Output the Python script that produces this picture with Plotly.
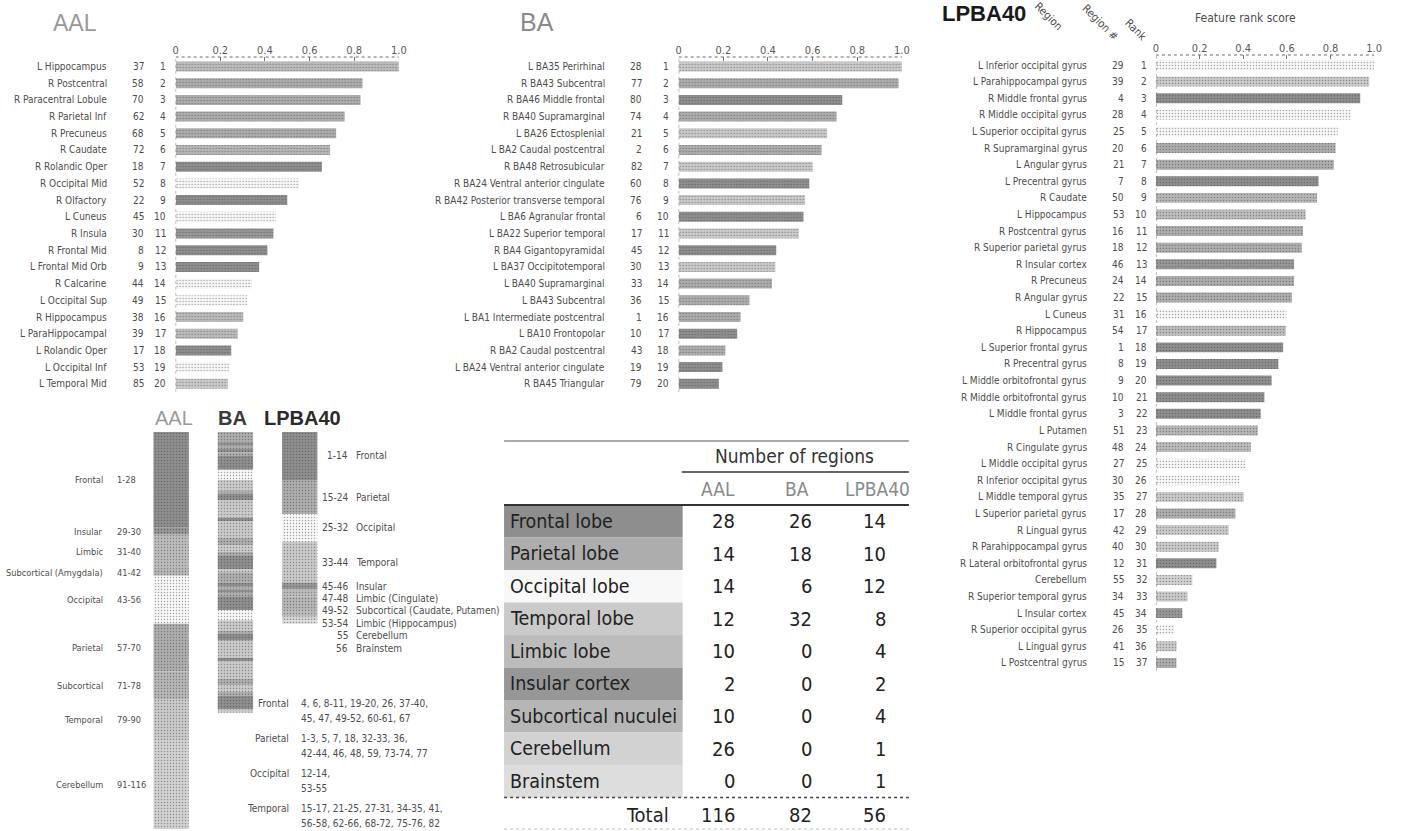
import plotly.graph_objects as go

W, H = 1406, 831

# ---------------- data ----------------
# AAL atlas: top-20 regions by feature rank score
aal_names = ["L Hippocampus", "R Postcentral", "R Paracentral Lobule", "R Parietal Inf", "R Precuneus",
             "R Caudate", "R Rolandic Oper", "R Occipital Mid", "R Olfactory", "L Cuneus",
             "R Insula", "R Frontal Mid", "L Frontal Mid Orb", "R Calcarine", "L Occipital Sup",
             "R Hippocampus", "L ParaHippocampal", "L Rolandic Oper", "L Occipital Inf", "L Temporal Mid"]
aal_region = [37, 58, 70, 62, 68, 72, 18, 52, 22, 45, 30, 8, 9, 44, 49, 38, 39, 17, 53, 85]
aal_score = [1.0, 0.837, 0.828, 0.757, 0.719, 0.692, 0.655, 0.552, 0.500, 0.450,
             0.438, 0.411, 0.374, 0.340, 0.322, 0.303, 0.278, 0.249, 0.241, 0.234]

# Brodmann areas: top-20 regions
ba_names = ["L BA35 Perirhinal", "R BA43 Subcentral", "R BA46 Middle frontal", "R BA40 Supramarginal",
            "L BA26 Ectosplenial", "L BA2 Caudal postcentral", "R BA48 Retrosubicular",
            "R BA24 Ventral anterior cingulate", "R BA42 Posterior transverse temporal",
            "L BA6 Agranular frontal", "L BA22 Superior temporal", "R BA4 Gigantopyramidal",
            "L BA37 Occipitotemporal", "L BA40 Supramarginal", "L BA43 Subcentral",
            "L BA1 Intermediate postcentral", "L BA10 Frontopolar", "R BA2 Caudal postcentral",
            "L BA24 Ventral anterior cingulate", "R BA45 Triangular"]
ba_region = [28, 77, 80, 74, 21, 2, 82, 60, 76, 6, 17, 45, 30, 33, 36, 1, 10, 43, 19, 79]
ba_score = [1.0, 0.985, 0.733, 0.707, 0.665, 0.640, 0.600, 0.585, 0.566, 0.559,
            0.538, 0.437, 0.433, 0.418, 0.317, 0.277, 0.262, 0.209, 0.196, 0.180]

# LPBA40 atlas: top-37 regions
lpba_names = ["L Inferior occipital gyrus", "L Parahippocampal gyrus", "R Middle frontal gyrus",
              "R Middle occipital gyrus", "L Superior occipital gyrus", "R Supramarginal gyrus",
              "L Angular gyrus", "L Precentral gyrus", "R Caudate", "L Hippocampus",
              "R Postcentral gyrus", "R Superior parietal gyrus", "R Insular cortex", "R Precuneus",
              "R Angular gyrus", "L Cuneus", "R Hippocampus", "L Superior frontal gyrus",
              "R Precentral gyrus", "L Middle orbitofrontal gyrus", "R Middle orbitofrontal gyrus",
              "L Middle frontal gyrus", "L Putamen", "R Cingulate gyrus", "L Middle occipital gyrus",
              "R Inferior occipital gyrus", "L Middle temporal gyrus", "L Superior parietal gyrus",
              "R Lingual gyrus", "R Parahippocampal gyrus", "R Lateral orbitofrontal gyrus",
              "Cerebellum", "R Superior temporal gyrus", "L Insular cortex",
              "R Superior occipital gyrus", "L Lingual gyrus", "L Postcentral gyrus"]
lpba_region = [29, 39, 4, 28, 25, 20, 21, 7, 50, 53, 16, 18, 46, 24, 22, 31, 54, 1, 8, 9, 10, 3,
               51, 48, 27, 30, 35, 17, 42, 40, 12, 55, 34, 45, 26, 41, 15]
lpba_score = [1.0, 0.977, 0.936, 0.894, 0.833, 0.823, 0.815, 0.745, 0.738, 0.686,
              0.674, 0.668, 0.633, 0.633, 0.623, 0.598, 0.595, 0.583, 0.561, 0.530,
              0.497, 0.480, 0.467, 0.435, 0.409, 0.386, 0.402, 0.364, 0.333, 0.288,
              0.277, 0.167, 0.144, 0.121, 0.083, 0.095, 0.094]

# Region-number ranges of each atlas: (first, last, label, lobe)
aal_groups = [(1, 28, "Frontal", "frontal"), (29, 30, "Insular", "insular"),
              (31, 40, "Limbic", "limbic"), (41, 42, "Subcortical (Amygdala)", "subcortical"),
              (43, 56, "Occipital", "occipital"), (57, 70, "Parietal", "parietal"),
              (71, 78, "Subcortical", "subcortical"), (79, 90, "Temporal", "temporal"),
              (91, 116, "Cerebellum", "cerebellum")]
lpba_groups = [(1, 14, "Frontal", "frontal"), (15, 24, "Parietal", "parietal"),
               (25, 32, "Occipital", "occipital"), (33, 44, "Temporal", "temporal"),
               (45, 46, "Insular", "insular"), (47, 48, "Limbic (Cingulate)", "limbic"),
               (49, 52, "Subcortical (Caudate, Putamen)", "subcortical"),
               (53, 54, "Limbic (Hippocampus)", "limbic"), (55, 55, "Cerebellum", "cerebellum"),
               (56, 56, "Brainstem", "brainstem")]
ba_lobe_ranges = {
    "frontal": [(4, 4), (6, 6), (8, 11), (19, 20), (26, 26), (37, 40), (45, 45), (47, 47),
                (49, 52), (60, 61), (67, 67), (78, 81)],
    "parietal": [(1, 3), (5, 5), (7, 7), (18, 18), (32, 33), (36, 36), (42, 44), (46, 46),
                 (48, 48), (59, 59), (73, 74), (77, 77)],
    "occipital": [(12, 14), (53, 55)],
    "temporal": [(15, 17), (21, 25), (27, 31), (34, 35), (41, 41), (56, 58), (62, 66),
                 (68, 72), (75, 76), (82, 82)],
}
ba_n_regions = 82
ba_legend = [("Frontal", ["4, 6, 8-11, 19-20, 26, 37-40,", "45, 47, 49-52, 60-61, 67"]),
             ("Parietal", ["1-3, 5, 7, 18, 32-33, 36,", "42-44, 46, 48, 59, 73-74, 77"]),
             ("Occipital", ["12-14,", "53-55"]),
             ("Temporal", ["15-17, 21-25, 27-31, 34-35, 41,", "56-58, 62-66, 68-72, 75-76, 82"])]

# Number of regions per lobe
table_lobes = ["Frontal lobe", "Parietal lobe", "Occipital lobe", "Temporal lobe", "Limbic lobe",
               "Insular cortex", "Subcortical nuculei", "Cerebellum", "Brainstem"]
table_keys = ["frontal", "parietal", "occipital", "temporal", "limbic", "insular",
              "subcortical", "cerebellum", "brainstem"]
aal_counts = [28, 14, 14, 12, 10, 2, 10, 26, 0]
ba_counts = [26, 18, 6, 32, 0, 0, 0, 0, 0]
lpba_counts = [14, 10, 12, 8, 4, 2, 4, 1, 1]
atlas_names = ["AAL", "BA", "LPBA40"]

# ---------------- styling ----------------
LOBE_FILL = {"frontal": "#8e8e8e", "parietal": "#adadad", "occipital": "#f8f8f8",
             "temporal": "#cacaca", "limbic": "#bcbcbc", "insular": "#979797",
             "subcortical": "#b6b6b6", "cerebellum": "#d2d2d2", "brainstem": "#dddddd"}
NARROW = "'Liberation Sans Narrow', 'DejaVu Sans Condensed', 'Roboto Condensed', Roboto, sans-serif"
SANS = "'Liberation Sans', Arial, sans-serif"
LBL = dict(family=NARROW, size=10, color="#4d4d4d")
LBL_SMALL = dict(family=NARROW, size=9.2, color="#4d4d4d")


def px(x):
    return x / W


def py(y):
    return 1 - y / H


def axname(k):
    s = "" if k == 1 else str(k)
    return f"x{s}", f"y{s}", f"xaxis{s}", f"yaxis{s}"


def lobe_of(region, groups):
    for a, b, _, lobe in groups:
        if a <= region <= b:
            return lobe
    return "temporal"


def ba_lobe(region):
    for lobe, ranges in ba_lobe_ranges.items():
        for a, b in ranges:
            if a <= region <= b:
                return lobe
    return "temporal"


def pattern_for(lobes):
    return dict(shape=".", fillmode="overlay", size=3, solidity=0.18,
                fgcolor=["#9a9a9a" if l == "occipital" else "#ffffff" for l in lobes])


def note(x, y, text, font, xanchor="center", yanchor="middle", **kw):
    d = dict(xref="paper", yref="paper", x=px(x), y=py(y), text=text, xanchor=xanchor,
             yanchor=yanchor, showarrow=False, font=font)
    d.update(kw)
    return d


fig = go.Figure()
annotations = []
shapes = []

# ---------------- ranked bar panels ----------------
panels = [
    # names, regions, scores, lobes, x0px, x1px, axis_px, row1_px, pitch, name/reg/rank offsets
    (aal_names, aal_region, aal_score, [lobe_of(r, aal_groups) for r in aal_region],
     174, 399, 57, 66.5, 16.7, (67, 30, 8)),
    (ba_names, ba_region, ba_score, [ba_lobe(r) for r in ba_region],
     681, 906, 57, 66.5, 16.7, (72, 35, 8)),
    (lpba_names, lpba_region, lpba_score, [lobe_of(r, lpba_groups) for r in lpba_region],
     1162, 1382, 55, 65.0, 16.61, (67, 30, 7)),
]

layout_axes = {}
for k, (names, regs, scores, lobes, x0, x1, ax_y, row1, pitch, offs) in enumerate(panels, start=1):
    n = len(names)
    ranks = list(range(1, n + 1))
    bottom_px = row1 + (n - 1) * pitch + 8
    top_rank = 1 - (row1 - ax_y) / pitch
    bot_rank = 1 + (bottom_px - row1) / pitch
    xa, ya, xkey, ykey = axname(k)
    fig.add_trace(go.Bar(
        x=scores, y=ranks, orientation="h", width=0.6, xaxis=xa, yaxis=ya,
        marker=dict(color=[LOBE_FILL[l] for l in lobes], line=dict(width=0),
                    pattern=pattern_for(lobes)),
        hoverinfo="skip", showlegend=False))
    layout_axes[xkey] = dict(
        domain=[px(x0), px(x1)], range=[0, 1], side="top", anchor=ya,
        tickvals=[0, 0.2, 0.4, 0.6, 0.8, 1.0], ticktext=["0", "0.2", "0.4", "0.6", "0.8", "1.0"],
        ticks="inside", ticklen=4, tickcolor="#777", tickwidth=1,
        tickfont=dict(family=NARROW, size=11, color="#5a5a5a"),
        showgrid=False, zeroline=False, showline=False, fixedrange=True)
    layout_axes[ykey] = dict(
        domain=[py(bottom_px), py(ax_y)], range=[bot_rank, top_rank], anchor=xa,
        visible=False, fixedrange=True)
    # dotted axis lines
    shapes.append(dict(type="line", xref=xa, yref=f"{ya} domain", x0=0, x1=1, y0=1, y1=1,
                       line=dict(color="#6a6a6a", width=1, dash="dot")))
    shapes.append(dict(type="line", xref=xa, yref=f"{ya} domain", x0=0, x1=0, y0=0, y1=1,
                       line=dict(color="#6a6a6a", width=1, dash="dot")))
    for name, reg, rank in zip(names, regs, ranks):
        for txt, dx in ((name, offs[0]), (str(reg), offs[1]), (str(rank), offs[2])):
            annotations.append(dict(xref=xa, yref=ya, x=0, y=rank, xanchor="right", yanchor="middle",
                                    xshift=-dx, text=txt, showarrow=False, font=LBL))

# panel titles
annotations += [
    note(48, 23, "AAL", dict(family=SANS, size=23, color="#9a9a9a"), xanchor="left"),
    note(519, 22, "BA", dict(family=SANS, size=25, color="#8a8a8a"), xanchor="left"),
    note(944, 14, "<b>LPBA40</b>", dict(family=SANS, size=22, color="#1a1a1a"), xanchor="left"),
    note(1252, 18, "Feature rank score", dict(family=NARROW, size=12, color="#4d4d4d")),
]
for txt, cx, cy in (("Region", 1054, 16), ("Region #", 1106, 22), ("Rank", 1141, 30)):
    annotations.append(note(cx, cy, txt, dict(family=NARROW, size=11, color="#4d4d4d"), textangle=45))

# ---------------- atlas region strips ----------------
STRIP_TOP, STRIP_BOT = 432, 829
n_max = 116
unit = (STRIP_BOT - STRIP_TOP) / n_max
layout_axes["xaxis4"] = dict(domain=[px(137.1), px(331.4)], range=[-0.5, 2.5], anchor="y4",
                             visible=False, fixedrange=True)
layout_axes["yaxis4"] = dict(domain=[py(STRIP_BOT), py(STRIP_TOP)], range=[n_max, 0], anchor="x4",
                             visible=False, fixedrange=True)

aal_lobes = [lobe_of(r, aal_groups) for r in range(1, 117)]
ba_lobes = [ba_lobe(r) for r in range(1, ba_n_regions + 1)]
lpba_lobes = [lobe_of(r, lpba_groups) for r in range(1, 57)]

for idx, lobes in enumerate((aal_lobes, ba_lobes, lpba_lobes)):
    runs = []
    start = 0
    for i in range(1, len(lobes) + 1):
        if i == len(lobes) or lobes[i] != lobes[start]:
            runs.append((start, i - start, lobes[start]))
            start = i
    fig.add_trace(go.Bar(
        x=[idx] * len(runs), y=[r[1] for r in runs], base=[r[0] for r in runs], width=0.55,
        xaxis="x4", yaxis="y4",
        marker=dict(color=[LOBE_FILL[r[2]] for r in runs], line=dict(width=0),
                    pattern=pattern_for([r[2] for r in runs])),
        hoverinfo="skip", showlegend=False))

for txt, cx, col in (("AAL", 172, "#9a9a9a"), ("<b>BA</b>", 231, "#3a3a3a"), ("<b>LPBA40</b>", 302, "#2a2a2a")):
    annotations.append(note(cx, 418, txt, dict(family=SANS, size=20, color=col)))

# AAL range labels
for a, b, label, _ in aal_groups:
    yc = (a - 1 + b) / 2
    annotations.append(dict(xref="paper", yref="y4", x=px(103), y=yc, text=label, xanchor="right",
                            yanchor="middle", showarrow=False, font=LBL_SMALL))
    annotations.append(dict(xref="paper", yref="y4", x=px(113), y=yc, text=f"{a}-{b}", xanchor="left",
                            yanchor="middle", showarrow=False, font=LBL_SMALL))

# LPBA40 range labels, spread so that neighbours do not collide
prev = -1e9
gap = 12.4 / unit
for a, b, label, _ in lpba_groups:
    yc = max((a - 1 + b) / 2, prev + gap)
    prev = yc
    rng = f"{a}-{b}" if a != b else f"{a}"
    annotations.append(dict(xref="paper", yref="y4", x=px(350), y=yc, text=rng, xanchor="right",
                            yanchor="middle", showarrow=False, font=LBL))
    annotations.append(dict(xref="paper", yref="y4", x=px(354), y=yc, text=label, xanchor="left",
                            yanchor="middle", showarrow=False, font=LBL))

# BA region list
y = 703
for label, lines in ba_legend:
    annotations.append(note(290, y, label, LBL, xanchor="right"))
    for j, line in enumerate(lines):
        annotations.append(note(298, y + 15.5 * j, line, LBL, xanchor="left"))
    y += 35

# ---------------- region count table ----------------
T_X0, T_X1, LAB_X1 = 505, 913, 685
ROW_TOP, ROW_H = 505, 32.5
col_right = [740, 817, 892]
TFONT = dict(family=NARROW, size=20, color="#222222")
LFONT = dict(family=NARROW, size=19.5, color="#222222")


def hline(yy, xa, xb, w, color, dash="solid"):
    shapes.append(dict(type="line", xref="paper", yref="paper", x0=px(xa), x1=px(xb),
                       y0=py(yy), y1=py(yy), line=dict(color=color, width=w, dash=dash)))


hline(441, T_X0, T_X1, 1, "#555555")
hline(472, 684, T_X1, 1.5, "#333333")
hline(ROW_TOP, T_X0, T_X1, 2, "#333333")
annotations.append(note(798, 456, "Number of regions", dict(family=NARROW, size=19, color="#333333")))
for name, xr in zip(atlas_names, (740, 814, 916)):
    annotations.append(note(xr, 489, name, dict(family=NARROW, size=19, color="#8a8a8a"), xanchor="right"))

for i, (lobe, key) in enumerate(zip(table_lobes, table_keys)):
    top = ROW_TOP + i * ROW_H
    shapes.append(dict(type="rect", xref="paper", yref="paper", x0=px(T_X0), x1=px(LAB_X1),
                       y0=py(top + ROW_H), y1=py(top), fillcolor=LOBE_FILL[key], line=dict(width=0),
                       layer="below"))
    yc = top + ROW_H / 2
    annotations.append(note(509, yc, lobe, LFONT, xanchor="left"))
    for counts, xr in zip((aal_counts, ba_counts, lpba_counts), col_right):
        annotations.append(note(xr, yc, str(counts[i]), TFONT, xanchor="right"))

body_bot = ROW_TOP + len(table_lobes) * ROW_H
hline(body_bot, T_X0, T_X1, 1.5, "#444444", "dot")
tot_y = body_bot + 17
annotations.append(note(673, tot_y, "Total", TFONT, xanchor="right"))
for counts, xr in zip((aal_counts, ba_counts, lpba_counts), col_right):
    annotations.append(note(xr, tot_y, str(sum(counts)), TFONT, xanchor="right"))
hline(829, T_X0, T_X1, 1, "#bbbbbb", "dot")

fig.update_layout(
    width=W, height=H, margin=dict(l=0, r=0, t=0, b=0),
    paper_bgcolor="white", plot_bgcolor="white",
    barmode="overlay", showlegend=False,
    annotations=annotations, shapes=shapes,
    **layout_axes)

fig.write_html("out.html", config={"displayModeBar": False})
